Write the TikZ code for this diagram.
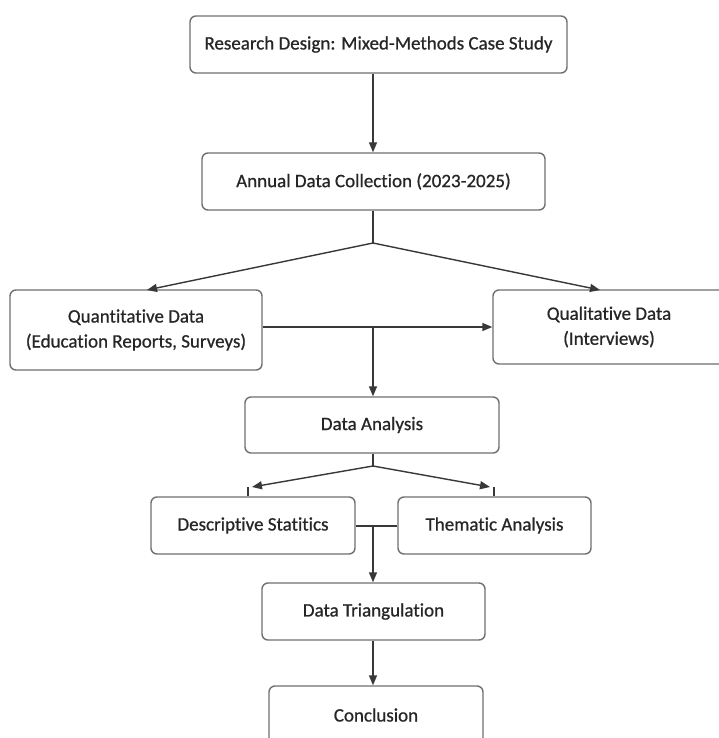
\documentclass[tikz,border=0pt]{standalone}
\usepackage{fontspec}
\setmainfont{Carlito}
\newfontface\boxfont{Carlito}[FakeBold=0.7,Ligatures=NoCommon]
\usetikzlibrary{arrows.meta,calc}
\definecolor{boxline}{HTML}{707070}
\definecolor{conn}{HTML}{383838}
\definecolor{txt}{HTML}{262626}
\begin{document}
\begin{tikzpicture}[x=1pt,y=-1pt,
  box/.style={draw=boxline,line width=1.4pt,rounded corners=6pt,fill=white,
    text=txt,font=\boxfont\fontsize{19}{25}\selectfont,align=center,inner sep=0pt},
  conline/.style={draw=conn,line width=1.4pt},
  arr/.style={conline,-{Triangle[length=10pt,width=8pt]}}]
\useasboundingbox (0,0) rectangle (719,738);
\clip (0,0) rectangle (719,738);
\fill[white] (0,0) rectangle (719,738);
\node[box,minimum width=377pt,minimum height=57pt] (rd) at (378.5,44.5) {Research Design: Mixed-Methods Case Study};
\node[box,minimum width=343pt,minimum height=57pt] (adc) at (373.5,181.5) {Annual Data Collection (2023-2025)};
\node[box,minimum width=252pt,minimum height=80pt] (quant) at (136,330) {Quantitative Data\\(Education Reports, Surveys)};
\node[box,minimum width=232pt,minimum height=74pt] (qual) at (609,327) {Qualitative Data\\(Interviews)};
\node[box,minimum width=254pt,minimum height=56pt] (da) at (372,425) {Data Analysis};
\node[box,minimum width=204pt,minimum height=57pt] (desc) at (253,525.5) {Descriptive Statitics};
\node[box,minimum width=193pt,minimum height=57pt] (them) at (494.5,525.5) {Thematic Analysis};
\node[box,minimum width=223pt,minimum height=57pt] (tri) at (373.5,611.5) {Data Triangulation};
\node[box,minimum width=214pt,minimum height=58pt] (conc) at (376,715) {Conclusion};
% coordinates
\coordinate (j1) at (373,243);
\coordinate (qn) at (147,290);
\coordinate (ln) at (600,290);
\coordinate (j2) at (373,327);
\coordinate (j3) at (373,466);
\coordinate (ad) at (248,487);
\coordinate (at) at (494,487);
\coordinate (j4) at (373,526);
% connectors
\draw[arr] (rd.south -| j1) -- (adc.north -| j1);
\draw[conline] (adc.south -| j1) -- (j1);
\draw[arr] (j1) -- (qn);
\draw[arr] (j1) -- (ln);
\draw[arr] (quant.east |- qual.west) -- (qual.west);
\draw[arr] (j2) -- (da.north -| j2);
\draw[conline] (da.south -| j3) -- (j3);
\draw[arr] (j3) -- ($(ad)+(4,0)$);
\draw[arr] (j3) -- ($(at)+(-4,0)$);
\draw[conline] (ad) -- (ad |- desc.north);
\draw[conline] (at) -- (at |- them.north);
\draw[conline] (desc.east |- j4) -- (them.west |- j4);
\draw[arr] (j4) -- (tri.north -| j4);
\draw[arr] (tri.south -| j4) -- (conc.north -| j4);
\end{tikzpicture}
\end{document}
